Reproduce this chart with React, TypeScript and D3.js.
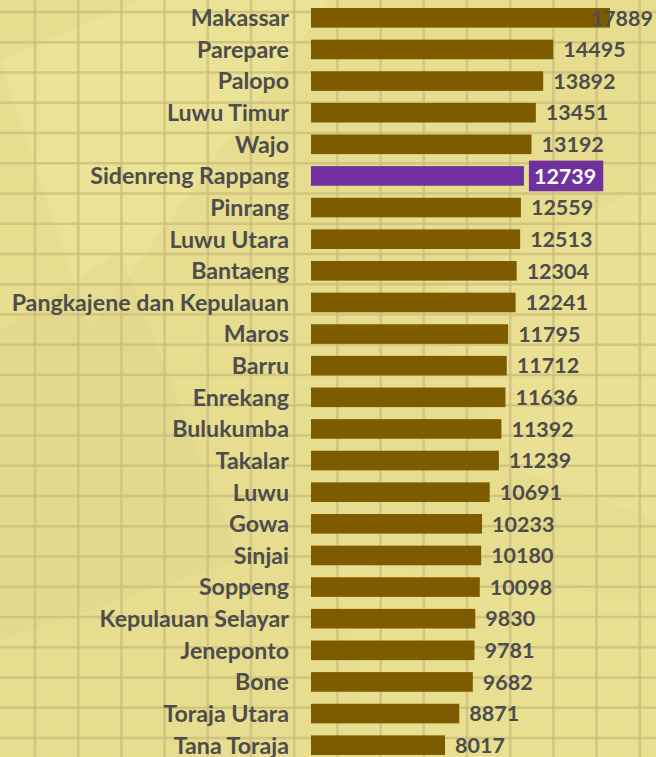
import React from "react";
import * as d3 from "d3";

const regions = [
  "Makassar", "Parepare", "Palopo", "Luwu Timur", "Wajo", "Sidenreng Rappang",
  "Pinrang", "Luwu Utara", "Bantaeng", "Pangkajene dan Kepulauan", "Maros", "Barru",
  "Enrekang", "Bulukumba", "Takalar", "Luwu", "Gowa", "Sinjai", "Soppeng",
  "Kepulauan Selayar", "Jeneponto", "Bone", "Toraja Utara", "Tana Toraja",
];
const values = [
  17889, 14495, 13892, 13451, 13192, 12739, 12559, 12513, 12304, 12241, 11795, 11712,
  11636, 11392, 11239, 10691, 10233, 10180, 10098, 9830, 9781, 9682, 8871, 8017,
];
const highlight = "Sidenreng Rappang";

const W = 656;
const H = 757;
const BG = "#e7dd8f";
const GRID = "#cbbd7c";
const BAR = "#7d5c00";
const PURPLE = "#7030a0";
const TEXT = "#4d4d4d";
const FONT = "Lato, 'Open Sans', sans-serif";

export default function App() {
  const x = d3.scaleLinear().domain([0, 17889]).range([311, 610]);
  const y = d3.scaleBand<string>().domain(regions).range([2, 761]).paddingInner(0.38).paddingOuter(0.19);
  const bw = y.bandwidth();
  const step = y.step();

  const vLines = d3.range(35, W, 43.2);
  const hLines = d3.range(12, H, 30.25);

  const valSize = 21.5;
  const labelSize = 23.2;

  return (
    <svg width={W} height={H} style={{ position: "absolute", left: 0, top: 0, display: "block" }}>
      <rect x={0} y={0} width={W} height={H} fill={BG} />
      {/* faint facets in the background */}
      <polygon points="0,60 140,0 330,0 90,330" fill="#f2ea9e" opacity={0.35} />
      <polygon points="0,330 120,250 240,560 0,640" fill="#d9cd80" opacity={0.2} />
      <polygon points="420,300 656,180 656,520 520,470" fill="#efe69a" opacity={0.35} />
      <polygon points="330,560 656,600 656,757 380,757" fill="#ede496" opacity={0.3} />
      {vLines.map((v, i) => (
        <line key={"v" + i} x1={v} x2={v} y1={0} y2={H} stroke={GRID} strokeWidth={2.5} opacity={0.75} />
      ))}
      {hLines.map((h, i) => (
        <line key={"h" + i} x1={0} x2={W} y1={h} y2={h} stroke={GRID} strokeWidth={2.5} opacity={0.75} />
      ))}
      {regions.map((r, i) => {
        const v = values[i];
        const y0 = y(r)!;
        const cy = y0 + bw / 2;
        const end = x(v);
        const isHi = r === highlight;
        const label = String(v);
        const estW = label.length * 0.58 * valSize;
        let vx = end + 10;
        let anchor: "start" | "end" = "start";
        if (vx + estW > W - 3) {
          vx = W - 3;
          anchor = "end";
        }
        return (
          <g key={r}>
            <text
              x={289}
              y={cy}
              dy="0.36em"
              textAnchor="end"
              fontFamily={FONT}
              fontWeight={700}
              fontSize={labelSize}
              fill={TEXT}
            >
              {r}
            </text>
            <rect x={x(0)} y={y0} width={end - x(0)} height={bw} fill={isHi ? PURPLE : BAR} />
            {isHi && (
              <rect x={end + 5} y={cy - step / 2 + 0.5} width={estW + 12} height={step - 1} fill={PURPLE} />
            )}
            <text
              x={vx}
              y={cy}
              dy="0.36em"
              textAnchor={anchor}
              fontFamily={FONT}
              fontWeight={700}
              fontSize={valSize}
              fill={isHi ? "#ffffff" : TEXT}
            >
              {label}
            </text>
          </g>
        );
      })}
    </svg>
  );
}
